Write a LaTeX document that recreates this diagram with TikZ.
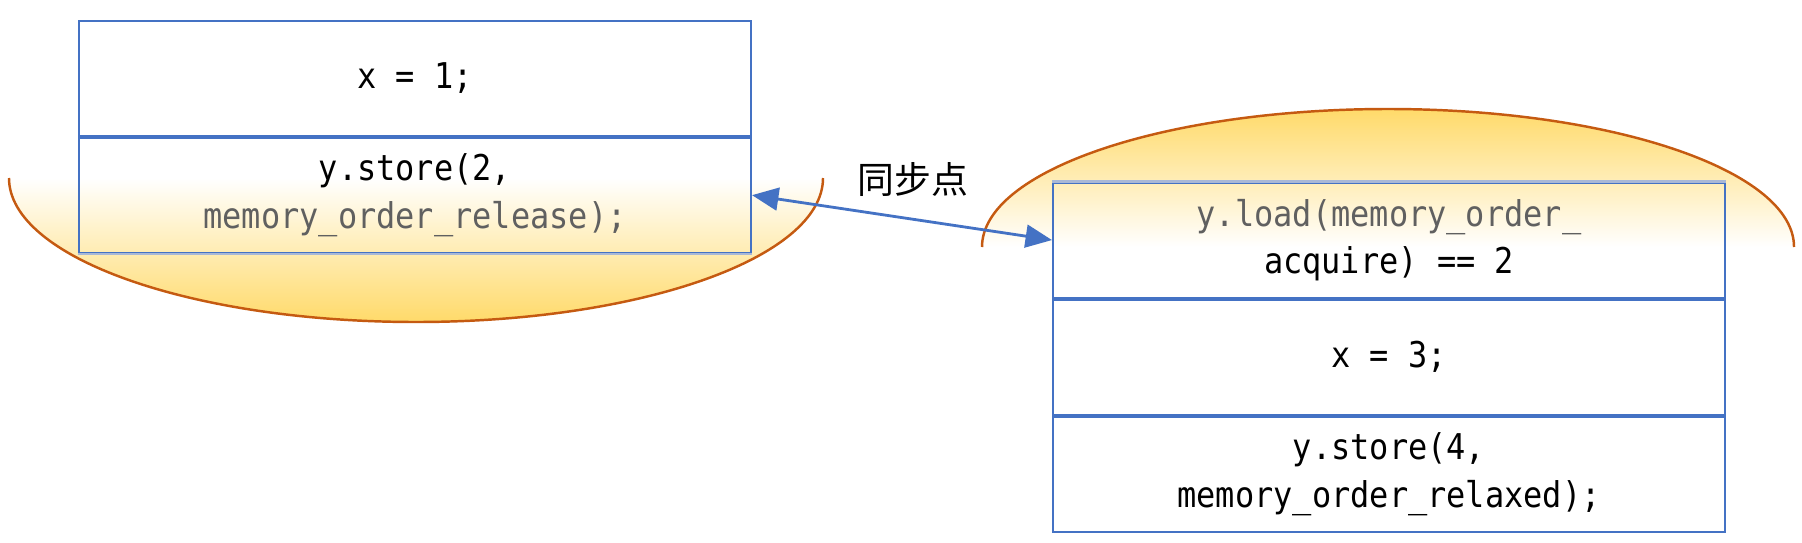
\documentclass[tikz,border=0pt]{standalone}
\usepackage{fontspec}
\setmonofont{DejaVu Sans Mono}[FakeStretch=0.9]
\newfontfamily\cjk{Noto Sans CJK SC}
\usetikzlibrary{positioning,arrows.meta}
\definecolor{boxblue}{HTML}{4472C4}
\definecolor{fadeblue}{HTML}{A9B8D6}
\definecolor{ringorange}{HTML}{C55A11}
\definecolor{glow}{HTML}{FFDA6A}
\definecolor{codegray}{HTML}{606060}
\begin{document}
\begin{tikzpicture}[
  cell/.style={draw=boxblue, line width=0.6pt, minimum width=6.72cm, minimum height=1.15cm,
    inner sep=0pt, align=center, font=\ttfamily\fontsize{10.1}{13.5}\selectfont},
  ring/.style={draw=ringorange, line width=0.7pt}
]
  \useasboundingbox (0,0) rectangle (18.02,5.42);

  % Shaded half ellipses (behind the boxes)
  \shade[top color=white, bottom color=glow] (0.09,3.64) arc[start angle=180, end angle=360, x radius=4.07, y radius=1.44] -- cycle;
  \shade[top color=glow, bottom color=white] (9.82,2.95) arc[start angle=180, end angle=0, x radius=4.06, y radius=1.38] -- cycle;
  \draw[ring] (0.09,3.64) arc[start angle=180, end angle=360, x radius=4.07, y radius=1.44];
  \draw[ring] (9.82,2.95) arc[start angle=180, end angle=0, x radius=4.06, y radius=1.38];

  % Left thread
  \node[cell, anchor=north] (lt) at (4.15,5.225) {x = 1;};
  \node[cell, below=0pt of lt] (lb) {y.store(2,\\\textcolor{codegray}{memory\_order\_release);}};
  \draw[fadeblue, line width=0.6pt] (lb.south west) -- (lb.south east);

  % Right thread
  \node[cell, anchor=north] (rt) at (13.89,3.605) {\textcolor{codegray}{y.load(memory\_order\_}\\acquire) == 2};
  \node[cell, below=0pt of rt] (rm) {x = 3;};
  \node[cell, below=0pt of rm] (rb) {y.store(4,\\memory\_order\_relaxed);};
  \draw[fadeblue, line width=0.6pt] (rt.north west) -- (rt.north east);

  % Synchronisation
  \draw[{Triangle[length=7.5pt,width=6.5pt]}-{Triangle[length=7.5pt,width=6.5pt]}, boxblue, line width=0.8pt] (lb.east) -- (rt.west);
  \node[font=\cjk\fontsize{10.5}{12}\selectfont] (sync) at (9.13,3.62) {同步点};

\end{tikzpicture}
\end{document}
